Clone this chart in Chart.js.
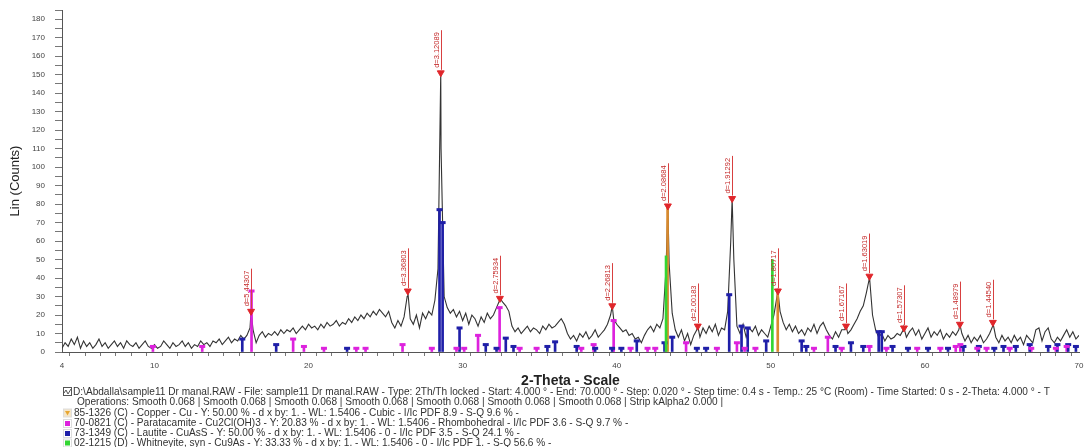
<!DOCTYPE html>
<html>
<head>
<meta charset="utf-8">
<script src="https://cdn.jsdelivr.net/npm/chart.js@4.4.1/dist/chart.umd.min.js"></script>
<style>
html, body { margin: 0; padding: 0; background: #fff; }
#wrap { width: 1086px; height: 447px; }
</style>
</head>
<body>
<div id="wrap"><canvas id="xrd"></canvas></div>
<script>
const FONT = '"Liberation Sans", Arial, sans-serif';

// scan, every 0.2 deg 2-theta
const scanStart = 4.0;
const scanStep = 0.2;
const scanCounts = [
    2, 5, 3, 7, 4, 8, 2, 6, 3, 5,
    2, 4, 7, 3, 5, 2, 4, 6, 3, 5,
    2, 6, 4, 3, 5, 2, 4, 6, 3, 2,
    4, 2, 3, 6, 4, 2, 5, 3, 4, 6,
    3, 5, 2, 4, 3, 6, 4, 5, 3, 6,
    5, 7, 4, 6, 8, 5, 7, 6, 9, 7,
    9, 13, 12, 5, 9, 11, 8, 10, 9, 11,
    9, 12, 10, 12, 11, 13, 10, 12, 14, 12,
    15, 13, 14, 12, 15, 13, 16, 14, 15, 17,
    14, 16, 15, 18, 16, 19, 17, 20, 18, 21,
    19, 22, 20, 23, 21, 19, 22, 16, 13, 17,
    14, 19, 30, 18, 15, 20, 13, 21, 18, 22,
    20, 28, 45, 110, 30, 24, 21, 23, 19, 22,
    17, 21, 15, 20, 18, 14, 19, 16, 21, 18,
    20, 24, 28, 27, 25, 22, 14, 11, 13, 10,
    12, 14, 11, 13, 12, 10, 14, 12, 15, 13,
    14, 16, 18, 15, 10, 7, 9, 6, 10, 8,
    11, 7, 9, 12, 8, 10, 12, 15, 20, 18,
    15, 13, 11, 12, 9, 10, 7, 8, 5, 9,
    12, 14, 11, 15, 13, 18, 45, 48, 21, 12,
    8, 12, 6, 10, 4, 9, 12, 8, 13, 10,
    14, 11, 15, 9, 13, 12, 22, 60, 50, 14,
    10, 15, 8, 13, 11, 14, 9, 12, 10, 8,
    14, 20, 30, 22, 16, 12, 15, 11, 14, 10,
    12, 9, 13, 11, 15, 10, 14, 16, 12, 9,
    7, 11, 8, 12, 12, 10, 12, 15, 18, 22,
    25, 32, 40, 20, 12, 8, 10, 6, 9, 7,
    8, 10, 9, 12, 8, 11, 13, 9, 12, 7,
    10, 13, 8, 11, 9, 12, 7, 10, 8, 11,
    9, 12, 10, 6, 9, 5, 8, 6, 9, 5,
    7, 10, 14, 8, 5, 9, 6, 8, 5, 9,
    6, 8, 4, 9, 7, 5, 12, 13, 6, 11,
    13, 7, 5, 8, 6, 9, 12, 8, 11, 7,
    9
];

// labelled peaks
const peakTheta  = [16.27, 26.44, 28.58, 32.42, 39.71, 43.32, 45.26, 47.49, 50.46, 54.88, 56.40, 58.64, 62.27, 64.41];
const peakCounts = [22, 33, 151, 29, 25, 79, 14, 83, 33, 14, 41, 13, 15, 16];
const peakLabels = ['d=5.44307', 'd=3.36803', 'd=3.12089', 'd=2.75934', 'd=2.26813', 'd=2.08684', 'd=2.00183',
                    'd=1.91292', 'd=1.80717', 'd=1.67167', 'd=1.63019', 'd=1.57307', 'd=1.48979', 'd=1.44540'];

// reference patterns (sticks)
const copperTheta  = [43.30, 50.45];
const copperCounts = [79, 34];
const paraTheta  = [9.9, 13.1, 16.3, 19.0, 19.7, 21.0, 23.1, 23.7, 26.1, 28.0, 29.6, 30.1, 31.0, 32.4, 33.7, 34.8, 37.7, 38.5,
                    39.8, 40.9, 42.0, 42.5, 44.5, 46.5, 47.8, 48.3, 49.0, 52.8, 53.7, 54.6, 56.4, 57.5, 59.5, 61.0, 62.0, 62.3,
                    63.4, 64.0, 65.5, 66.9, 68.5, 69.2];
const paraCounts = [3, 3, 33, 7, 3, 2, 2, 2, 4, 2, 2, 2, 9, 24, 2, 2, 2, 4,
                    17, 2, 2, 2, 5, 2, 5, 2, 2, 2, 8, 2, 3, 2, 2, 2, 3, 4,
                    2, 2, 2, 2, 2, 3];
const lautTheta  = [15.7, 17.9, 22.5, 28.5, 28.7, 29.8, 31.5, 32.2, 32.8, 33.3, 35.5, 36.0, 37.4, 38.6, 39.7, 40.3, 41.3, 43.1,
                    43.6, 45.2, 45.8, 47.3, 48.1, 48.5, 49.7, 52.0, 52.3, 54.2, 55.2, 56.0, 57.0, 57.2, 57.9, 58.9, 60.2, 61.5,
                    62.5, 63.5, 64.5, 65.1, 65.9, 66.8, 68.0, 68.6, 69.3, 69.8];
const lautCounts = [7, 4, 2, 77, 70, 13, 4, 2, 7.5, 3, 3, 5.5, 3, 2, 2, 2, 6, 5,
                    8, 2, 2, 31, 14, 13, 6, 6, 3, 3, 5, 3, 11, 11, 3, 2, 2, 2,
                    3, 3, 2, 3, 3, 4, 3, 4, 4, 3];
const whitTheta  = [43.2, 50.1];
const whitCounts = [52, 50];

const thetaTickLabels = [4, 10, 20, 30, 40, 50, 60, 70];

const legendLines = [
    'D:\\Abdalla\\sample11 Dr manal.RAW - File: sample11 Dr manal.RAW - Type: 2Th/Th locked - Start: 4.000 ° - End: 70.000 ° - Step: 0.020 ° - Step time: 0.4 s - Temp.: 25 °C (Room) - Time Started: 0 s - 2-Theta: 4.000 ° - T',
    'Operations: Smooth 0.068 | Smooth 0.068 | Smooth 0.068 | Smooth 0.068 | Smooth 0.068 | Smooth 0.068 | Smooth 0.068 | Strip kAlpha2 0.000 |',
    '85-1326 (C) - Copper - Cu - Y: 50.00 % - d x by: 1. - WL: 1.5406 - Cubic - I/Ic PDF 8.9 - S-Q 9.6 % -',
    '70-0821 (C) - Paratacamite - Cu2Cl(OH)3 - Y: 20.83 % - d x by: 1. - WL: 1.5406 - Rhombohedral - I/Ic PDF 3.6 - S-Q 9.7 % -',
    '73-1349 (C) - Lautite - CuAsS - Y: 50.00 % - d x by: 1. - WL: 1.5406 - 0 - I/Ic PDF 3.5 - S-Q 24.1 % -',
    '02-1215 (D) - Whitneyite, syn - Cu9As - Y: 33.33 % - d x by: 1. - WL: 1.5406 - 0 - I/Ic PDF 1. - S-Q 56.6 % -'
];

const copperColor = '#d98a2e';
const paraColor = '#dd22dd';
const lautColor = '#1f1fa8';
const whitColor = '#33d633';
const peakColor = '#e0262b';

const toPts = (xs, ys) => xs.map((x, i) => ({x: x, y: ys[i]}));
const scanPts = scanCounts.map((c, i) => ({x: +(scanStart + i * scanStep).toFixed(2), y: c}));
const linePts = scanPts.concat(toPts(peakTheta, peakCounts)).sort((a, b) => a.x - b.x);

function sticks(xs, ys, color, order) {
    return {type: 'bar', data: toPts(xs, ys), backgroundColor: color, barThickness: 2, grouped: false, order: order};
}
function caps(xs, ys, color, order) {
    return {type: 'scatter', data: toPts(xs, ys), pointStyle: 'line', pointRadius: 3, borderWidth: 3,
            borderColor: color, backgroundColor: color, order: order};
}

const peakLabelPlugin = {
    id: 'peakLabels',
    afterDatasetsDraw(chart) {
        const {ctx, scales: {x, y}} = chart;
        ctx.save();
        ctx.font = '7.5px ' + FONT;
        ctx.fillStyle = '#c42a2a';
        ctx.strokeStyle = '#d84040';
        ctx.lineWidth = 1;
        peakTheta.forEach((t, i) => {
            const px = Math.round(x.getPixelForValue(t)) + 0.5;
            const py = y.getPixelForValue(peakCounts[i]);
            const w = ctx.measureText(peakLabels[i]).width;
            const bottom = py - 5;
            ctx.beginPath();
            ctx.moveTo(px, py - 3);
            ctx.lineTo(px, bottom - w - 2);
            ctx.stroke();
            ctx.save();
            ctx.translate(px - 1, bottom);
            ctx.rotate(-Math.PI / 2);
            ctx.textAlign = 'left';
            ctx.textBaseline = 'bottom';
            ctx.fillText(peakLabels[i], 0, 0);
            ctx.restore();
        });
        ctx.restore();
    }
};

const legendTextPlugin = {
    id: 'legendText',
    afterDraw(chart) {
        const ctx = chart.ctx;
        ctx.save();
        // size the font so the first line spans the same width as in the scan report
        ctx.font = '9px ' + FONT;
        const size = 9 * 977 / ctx.measureText(legendLines[0]).width;
        ctx.font = size.toFixed(2) + 'px ' + FONT;
        ctx.fillStyle = '#333';
        ctx.textBaseline = 'middle';
        const rows = [392, 402.5, 413, 423.5, 433.5, 443];
        const icons = [null, null, copperColor, paraColor, lautColor, whitColor];
        legendLines.forEach((txt, i) => {
            const yy = rows[i];
            let tx = 74;
            if (i === 0) {
                ctx.strokeStyle = '#555';
                ctx.strokeRect(63.5, yy - 4.5, 8, 8);
                ctx.beginPath();
                ctx.moveTo(64, yy + 1); ctx.lineTo(66, yy - 2); ctx.lineTo(68, yy + 2); ctx.lineTo(71, yy - 3);
                ctx.stroke();
                tx = 73;
            } else if (i === 1) {
                tx = 77;
            } else {
                ctx.fillStyle = '#ddd';
                ctx.fillRect(63, yy - 4.5, 9, 9);
                if (i === 2) {
                    ctx.fillStyle = '#f5e6c8';
                    ctx.fillRect(64, yy - 3.5, 7, 7);
                    ctx.fillStyle = '#e8a632';
                    ctx.beginPath();
                    ctx.moveTo(65, yy - 2); ctx.lineTo(70, yy - 2); ctx.lineTo(67.5, yy + 2.5);
                    ctx.fill();
                } else {
                    ctx.fillStyle = '#fff';
                    ctx.fillRect(64, yy - 3.5, 7, 7);
                    ctx.fillStyle = icons[i];
                    ctx.fillRect(65, yy - 2.5, 5, 5);
                }
                ctx.fillStyle = '#333';
            }
            ctx.fillText(txt, tx, yy);
        });
        ctx.restore();
    }
};

new Chart(document.getElementById('xrd'), {
    type: 'line',
    data: {
        datasets: [
            {type: 'line', data: linePts, borderColor: '#333', borderWidth: 1.1, pointRadius: 0, tension: 0, order: 10},
            sticks(paraTheta, paraCounts, paraColor, 6),
            sticks(lautTheta, lautCounts, lautColor, 5),
            sticks(copperTheta, copperCounts, copperColor, 4),
            sticks(whitTheta, whitCounts, whitColor, 3),
            caps(paraTheta, paraCounts, paraColor, 3),
            caps(lautTheta, lautCounts, lautColor, 3),
            {type: 'scatter', data: toPts(peakTheta, peakCounts), pointStyle: 'triangle', rotation: 180,
             pointRadius: 4, borderWidth: 1, borderColor: peakColor, backgroundColor: peakColor, order: 1}
        ]
    },
    options: {
        responsive: true,
        maintainAspectRatio: false,
        animation: false,
        layout: {padding: {top: 10, right: 2, bottom: 57, left: 0}},
        plugins: {legend: {display: false}, tooltip: {enabled: false}},
        scales: {
            x: {
                type: 'linear',
                min: 4,
                max: 70,
                offset: false,
                afterFit: (s) => { s.height = 38; s.paddingLeft = 0; s.paddingRight = 0; },
                ticks: {
                    stepSize: 1,
                    autoSkip: false,
                    maxRotation: 0,
                    padding: 5,
                    color: '#444',
                    font: {size: 8, family: FONT},
                    callback: (v) => thetaTickLabels.includes(v) ? String(v) : ''
                },
                grid: {drawOnChartArea: false, tickLength: 4, tickColor: '#777'},
                border: {display: true, color: '#555', width: 1},
                title: {display: true, text: '2-Theta - Scale', color: '#222',
                        font: {size: 14, weight: 'bold', family: FONT}, padding: {top: 0, bottom: 0}}
            },
            y: {
                min: 0,
                max: 185,
                afterBuildTicks: (s) => { s.ticks = s.ticks.filter(t => t.value % 5 === 0); },
                afterFit: (s) => { s.width = 62; s.paddingTop = 0; s.paddingBottom = 0; },
                ticks: {
                    stepSize: 5,
                    autoSkip: false,
                    padding: 10,
                    color: '#444',
                    font: {size: 8, family: FONT},
                    callback: (v) => v % 10 === 0 ? String(v) : ''
                },
                grid: {drawOnChartArea: false, tickLength: 7, tickColor: '#777'},
                border: {display: true, color: '#555', width: 1},
                title: {display: true, text: 'Lin (Counts)', color: '#222',
                        font: {size: 13, family: FONT}, padding: {top: 8, bottom: 0}}
            }
        }
    },
    plugins: [peakLabelPlugin, legendTextPlugin]
});
</script>
</body>
</html>
